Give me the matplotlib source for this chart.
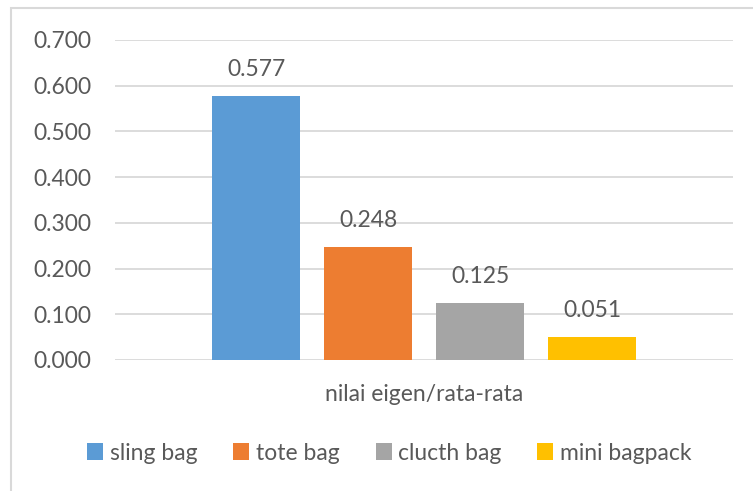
import matplotlib.pyplot as plt
from matplotlib.patches import Rectangle

category = "nilai eigen/rata-rata"
series = ["sling bag", "tote bag", "clucth bag", "mini bagpack"]
values = [0.577, 0.248, 0.125, 0.051]
colors = ["#5B9BD5", "#ED7D31", "#A5A5A5", "#FFC000"]
yticks = [0.0, 0.1, 0.2, 0.3, 0.4, 0.5, 0.6, 0.7]

plt.rcParams['font.family'] = ['Lato', 'DejaVu Sans']
txt = "#595959"
fs = 16.5

fig = plt.figure(figsize=(7.53, 4.91), dpi=100)
ax = fig.add_axes([115 / 753, 1 - 360 / 491, 618 / 753, 320 / 491])

w = 88 / 618
step = 112 / 618
for i, (name, v, c) in enumerate(zip(series, values, colors)):
    x = (i - 1.5) * step
    ax.bar(x, v, width=w, color=c, label=name, zorder=3)
    ax.text(x, v + 0.035, f"{v:.3f}", ha='center', va='bottom',
            fontsize=fs, color=txt)

ax.set_xlim(-0.5, 0.5)
ax.set_ylim(0, 0.7)
ax.set_yticks(yticks)
ax.set_yticklabels([f"{t:.3f}" for t in yticks], fontsize=fs, color=txt)
ax.tick_params(axis='y', length=0, pad=17)
ax.set_xticks([0])
ax.set_xticklabels([category], fontsize=fs, color=txt)
ax.tick_params(axis='x', length=0, pad=17)
ax.grid(axis='y', color='#D9D9D9', linewidth=1.3, zorder=0)
for s in ax.spines.values():
    s.set_visible(False)

leg = fig.legend(loc='center', bbox_to_anchor=(0.5 + 13 / 753, 1 - 453 / 491),
                 ncol=4, frameon=False, fontsize=fs, handlelength=0.7,
                 handleheight=0.7, handletextpad=0.3, columnspacing=1.55)
for t in leg.get_texts():
    t.set_color(txt)

# outer chart border
fig.patches.append(Rectangle((11 / 753, -0.1), 1.0, 1 - 8 / 491 + 0.1,
                             transform=fig.transFigure, fill=False,
                             edgecolor='#D9D9D9', linewidth=1.5))

fig.savefig("out.png", dpi=100)
